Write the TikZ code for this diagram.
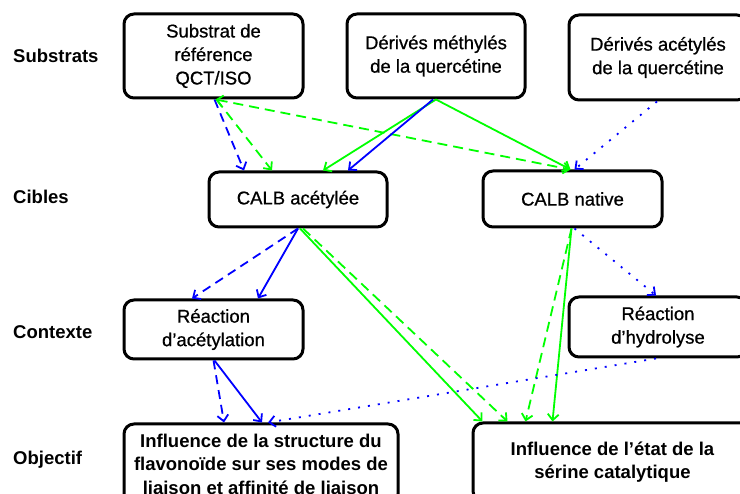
\documentclass[tikz,border=0pt]{standalone}
\usepackage{fontspec}
\setmainfont{Liberation Sans}
\newfontfamily\boxfont[FakeBold=0.7]{Liberation Sans}
\usetikzlibrary{arrows.meta}
\definecolor{lgreen}{RGB}{0,255,0}
\definecolor{lblue}{RGB}{0,0,255}
\begin{document}
\begin{tikzpicture}[x=1pt,y=-1pt,
  box/.style={draw=black,line width=3pt,rounded corners=10pt,align=center,
    inner sep=0pt,font=\fontsize{18.5}{23.5}\selectfont\boxfont},
  boldbox/.style={box,font=\fontsize{18.5}{23.5}\selectfont\bfseries},
  rowlabel/.style={anchor=west,inner sep=0pt,font=\fontsize{18.5}{22}\selectfont\bfseries},
  conn/.style={line width=1.8pt,-{Straight Barb[length=6pt,width=11pt]}},
  gsol/.style={conn,draw=lgreen},
  bsol/.style={conn,draw=lblue},
  gdash/.style={conn,draw=lgreen,dash pattern=on 10pt off 6pt},
  bdash/.style={conn,draw=lblue,dash pattern=on 9pt off 6pt},
  bdot/.style={conn,draw=lblue,dash pattern=on 2pt off 8pt}]
\useasboundingbox (0,0) rectangle (740,494);
\clip (0,0) rectangle (740,494);
\fill[white] (0,0) rectangle (740,494);

% row labels
\node[rowlabel] (lsub) at (13,56) {Substrats};
\node[rowlabel] (lcib) at (13,197) {Cibles};
\node[rowlabel] (lcon) at (13,332) {Contexte};
\node[rowlabel] (lobj) at (13,460) {Objectif};

% boxes
\node[box,minimum width=179pt,minimum height=84pt] (sub) at (213.5,56) {Substrat de\\référence\\QCT/ISO};
\node[box,minimum width=178pt,minimum height=84pt] (meth) at (436,56) {Dérivés méthylés\\de la quercétine};
\node[box,minimum width=178pt,minimum height=85pt] (acet) at (658,57.5) {Dérivés acétylés\\de la quercétine};
\node[box,minimum width=178pt,minimum height=55pt] (calbA) at (298,199.5) {CALB acétylée};
\node[box,minimum width=179pt,minimum height=56pt] (calbN) at (572.5,199) {CALB native};
\node[box,minimum width=179pt,minimum height=59pt] (reacA) at (213.5,329.5) {Réaction\\d’acétylation};
\node[box,minimum width=178pt,minimum height=60pt] (reacH) at (658,327) {Réaction\\d’hydrolyse};
\node[boldbox,minimum width=274pt,minimum height=80pt] (infS) at (261,464) {Influence de la structure du\\flavonoïde sur ses modes de\\liaison et affinité de liaison};
\node[boldbox,minimum width=279pt,minimum height=78pt] (infE) at (612.5,462) {Influence de l’état de la\\sérine catalytique};

% substrats -> cibles
\draw[bdash] ([xshift=1pt]sub.south) -- ([xshift=-54pt]calbA.north);
\draw[gdash] ([xshift=3pt]sub.south) -- ([xshift=-26pt]calbA.north);
\draw[gdash,{Straight Barb[length=6pt,width=11pt]}-{Straight Barb[length=6pt,width=11pt]}] ([xshift=2pt]sub.south) -- ([xshift=-2pt]calbN.north);
\draw[gsol] (meth.south) -- ([xshift=25pt]calbA.north);
\draw[bsol] ([xshift=-3pt]meth.south) -- ([xshift=50pt]calbA.north);
\draw[gsol] (meth.south) -- ([xshift=-2pt]calbN.north);
\draw[bdot] ([xshift=-1pt]acet.south) -- ([xshift=2pt]calbN.north);

% cibles -> contexte / objectif
\draw[bdash] (calbA.south) -- ([xshift=-21.5pt]reacA.north);
\draw[bsol] (calbA.south) -- ([xshift=44.5pt]reacA.north);
\draw[gsol] ([xshift=2pt]calbA.south) -- ([xshift=-130pt]infE.north);
\draw[gdash] ([xshift=5pt]calbA.south) -- ([xshift=-105pt]infE.north);
\draw[gdash] ([xshift=-1pt]calbN.south) -- ([xshift=-87pt]infE.north);
\draw[gsol] ([xshift=-1pt]calbN.south) -- ([xshift=-60pt]infE.north);
\draw[bdot] ([xshift=2pt]calbN.south) -- ([xshift=-2pt]reacH.north);

% contexte -> objectif
\draw[bdash] (reacA.south) -- ([xshift=-37pt]infS.north);
\draw[bsol] ([xshift=1pt]reacA.south) -- ([xshift=1pt]infS.north);
\draw[bdot] ([xshift=-2pt]reacH.south) -- ([xshift=7pt]infS.north);
\end{tikzpicture}
\end{document}
